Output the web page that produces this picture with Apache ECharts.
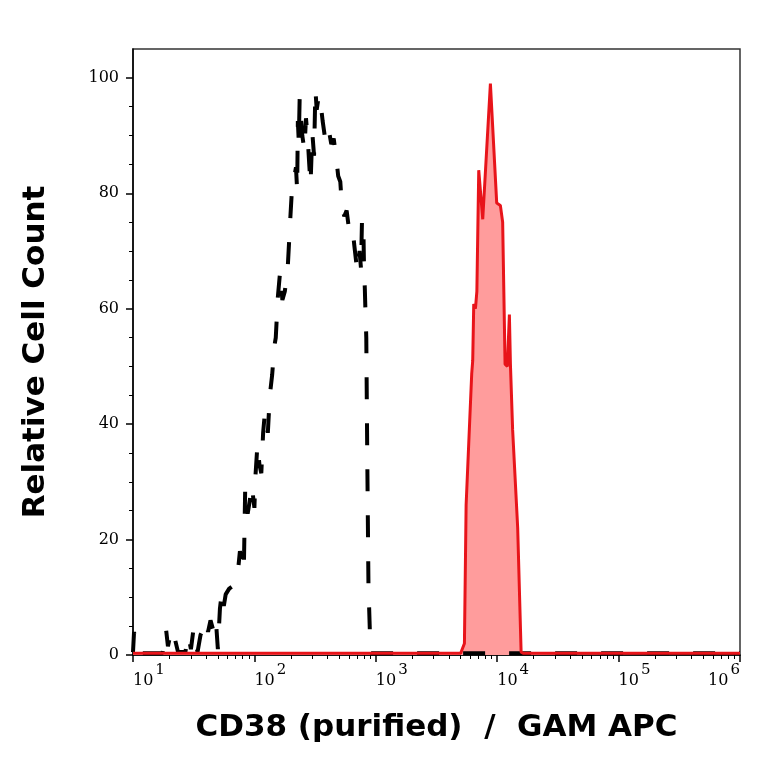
<!DOCTYPE html>
<html>
<head>
<meta charset="utf-8">
<script src="https://cdn.jsdelivr.net/npm/echarts@6/dist/echarts.min.js"></script>
<style>
  html, body { margin: 0; padding: 0; background: #fff; }
  #histogram { width: 764px; height: 764px; }
</style>
</head>
<body>
<div id="histogram"></div>
<script>
// isotype control (black dashed) and CD38 stained sample (red filled)
const isotypeX = [10, 10.2, 10.6, 11.5, 17.5, 18.7, 19.4, 20.3, 21, 22.3, 23.5, 27, 28.5, 30, 31.5, 34, 36, 38, 39.5, 41.5,
  43.5, 45.5, 48, 50, 52, 54, 56, 58, 62, 67, 72, 76, 80, 82, 84, 86, 88, 92, 95, 100, 102, 106, 110, 114, 118, 122, 126,
  129, 134, 140, 146, 150, 156, 163, 170, 178, 188, 193, 198, 203, 210, 220, 225, 228, 232, 236, 242, 248, 258, 266, 275,
  283, 290, 300, 310, 318, 326, 340, 356, 365, 385, 410, 430, 450, 473, 490, 510, 525, 550, 575, 600, 640, 665, 690, 715,
  735, 755, 770, 790, 800, 812, 822, 835, 850, 870, 900, 915, 1000000];
const isotypeY = [0.5, 4, 1, 0.3, 0.3, 4.5, 1.5, 3.5, 1.5, 2.5, 0.5, 0.5, 3.5, 1, 4.5, 0.5, 3.5, 4.5, 6, 4,
  6, 4.5, 6.5, 1, 8, 11, 8.5, 10.5, 11.5, 12, 13, 18, 14.5, 16, 29, 26, 24.5, 27, 29.5, 25.5, 31, 36.5, 33, 31.5, 38.5, 42, 40,
  38.5, 45, 48.5, 53.5, 55, 62, 66.5, 61.5, 63, 67, 71.5, 76, 80, 82, 84.5, 80.5, 92.5, 89, 96.5, 93, 90, 87.5, 93, 89.5,
  85, 81.5, 90.5, 86.5, 98, 94.5, 97, 94.5, 92.5, 89, 91, 88.5, 89.5, 86, 83, 82, 78, 76, 77, 74, 74.5, 71, 68, 66.5,
  70, 67, 75.5, 74, 67, 63.5, 59.5, 55, 35, 12, 2, 0.3, 0.3];

const cd38X = [10, 5000, 5143, 5370, 5546, 6166, 6285, 6409, 6620, 6800, 7047, 7300, 7600, 8790, 9910, 10620, 11090,
  11610, 12130, 12600, 12850, 13400, 14750, 15740, 16500, 1000000];
const cd38Y = [0.3, 0.3, 0.5, 2, 26, 48.7, 51, 60.8, 60, 63, 84, 80, 75.5, 99, 78.3, 77.9, 75,
  50.4, 50, 59, 50.4, 39, 22, 0.5, 0.3, 0.3];

const yMajorTicks = [0, 20, 40, 60, 80, 100];
const yMinorTicks = [5, 10, 15, 25, 30, 35, 45, 50, 55, 65, 70, 75, 85, 90, 95];
const xDecades = [10, 100, 1000, 10000, 100000];
const xMantissas = [2, 3, 4, 5, 6, 7, 8, 9];
const xMinorTicks = xDecades.flatMap((d) => xMantissas.map((m) => m * d));

const chart = echarts.init(document.getElementById("histogram"));

const pairs = (xs, ys) => xs.map((x, i) => [x, ys[i]]);
const titleFont = { fontFamily: "DejaVu Sans", fontWeight: "bold", fontSize: 31, color: "#000" };
const tickFont = "DejaVu Serif";

chart.setOption({
  animation: false,
  grid: {
    left: 133,
    right: 24,
    top: 49,
    bottom: 109,
    show: true,
    borderColor: "#333",
    borderWidth: 1.5,
  },
  xAxis: [
    {
      type: "log",
      logBase: 10,
      min: 10,
      max: 1000000,
      name: "CD38 (purified)  /  GAM APC",
      nameLocation: "middle",
      nameGap: 57,
      nameTextStyle: titleFont,
      axisLine: { lineStyle: { color: "#000", width: 1.5 } },
      axisTick: { length: 7, lineStyle: { color: "#000", width: 1.5 } },
      splitLine: { show: false },
      axisLabel: {
        margin: 8,
        align: "left",
        alignMaxLabel: "right",
        formatter: (v) => "{b|10}{s|" + Math.round(Math.log10(v)) + "}",
        rich: {
          b: { fontFamily: tickFont, fontSize: 16, color: "#000", verticalAlign: "bottom", padding: [10, 0, 0, 0] },
          s: { fontFamily: tickFont, fontSize: 15, color: "#000", verticalAlign: "top", padding: [0, 0, 0, 2] },
        },
      },
    },
    {
      type: "log",
      logBase: 10,
      min: 10,
      max: 1000000,
      position: "bottom",
      axisLine: { show: false },
      axisLabel: { show: false },
      splitLine: { show: false },
      axisTick: { customValues: xMinorTicks, length: 4, lineStyle: { color: "#000", width: 1 } },
    },
  ],
  yAxis: [
    {
      type: "value",
      min: 0,
      max: 105,
      name: "Relative Cell Count",
      nameLocation: "middle",
      nameGap: 82,
      nameTextStyle: titleFont,
      axisLine: { show: true, lineStyle: { color: "#000", width: 1.5 } },
      axisTick: { show: true, customValues: yMajorTicks, length: 7, lineStyle: { color: "#000", width: 1.5 } },
      axisLabel: { customValues: yMajorTicks, margin: 14, fontFamily: tickFont, fontSize: 16, color: "#000" },
      splitLine: { show: false },
    },
    {
      type: "value",
      min: 0,
      max: 105,
      position: "left",
      axisLine: { show: false },
      axisLabel: { show: false },
      splitLine: { show: false },
      axisTick: { show: true, customValues: yMinorTicks, length: 4, lineStyle: { color: "#000", width: 1 } },
    },
  ],
  series: [
    {
      name: "Isotype control",
      type: "line",
      data: pairs(isotypeX, isotypeY),
      showSymbol: false,
      lineStyle: { color: "#000", width: 4, type: [22, 24], cap: "butt" },
    },
    {
      name: "CD38",
      type: "line",
      data: pairs(cd38X, cd38Y),
      showSymbol: false,
      lineStyle: { color: "#e8141a", width: 3 },
      areaStyle: { color: "#ff9c9c", opacity: 1 },
    },
  ],
});
</script>
</body>
</html>
